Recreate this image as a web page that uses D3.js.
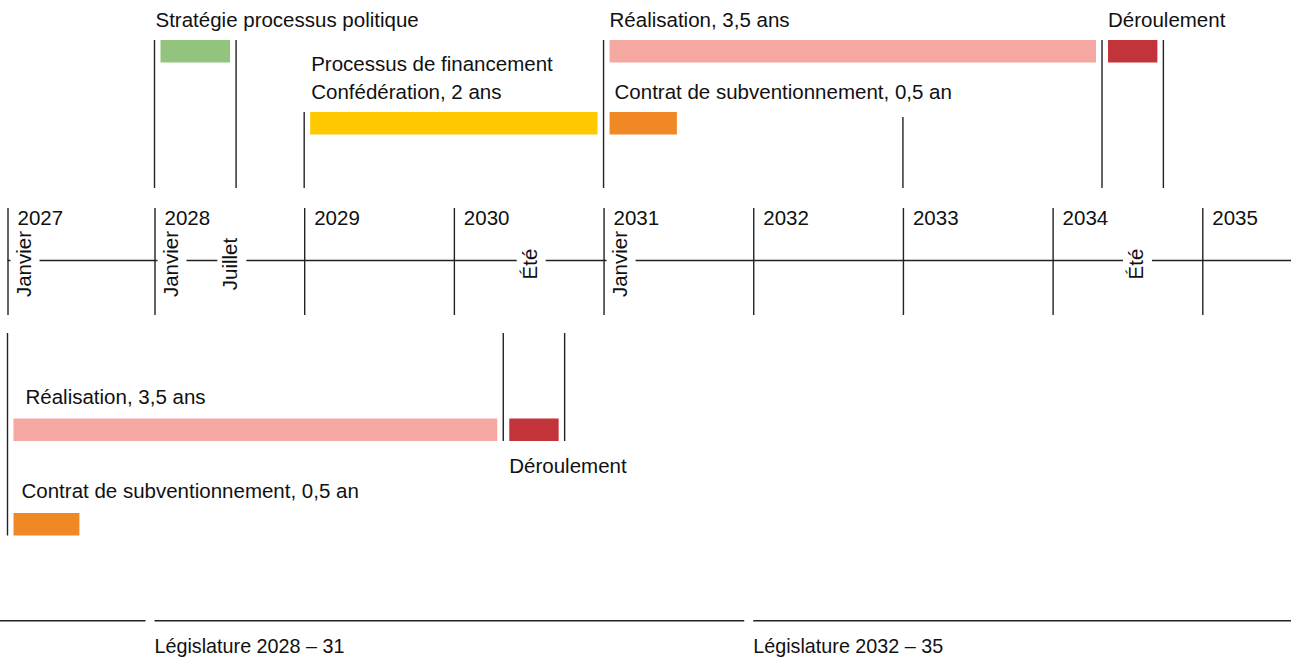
<!DOCTYPE html>
<html>
<head>
<meta charset="utf-8">
<script src="https://cdn.jsdelivr.net/npm/d3@7"></script>
<style>
  body { margin: 0; background: #fff; }
  text { font-family: "Liberation Sans", Arial, sans-serif; fill: #111; }
</style>
</head>
<body>
<div id="chart-area"></div>
<script>
//============================DATA============================
var years = [2027, 2028, 2029, 2030, 2031, 2032, 2033, 2034, 2035];

var monthLabels = ["Janvier", "Janvier", "Juillet", "Été", "Janvier", "Été"];
var monthTimes = [2027.0, 2028.0, 2028.5, 2030.5, 2031.0, 2034.55];

// top scenario (start 2028)
var topKeys = ["strategie", "financement", "realisation", "contrat", "deroulement"];
var topLabels = ["Stratégie processus politique", "Processus de financement|Confédération, 2 ans",
    "Réalisation, 3,5 ans", "Contrat de subventionnement, 0,5 an", "Déroulement"];
var topStarts = [2028.0, 2029.0, 2031.0, 2031.0, 2034.33];
var topEnds = [2028.545, 2031.0, 2034.33, 2031.53, 2034.74];
var topMarkers = [2028.0, 2028.545, 2029.0, 2031.0, 2033.0, 2034.33, 2034.74];

// bottom scenario (start 2027)
var bottomKeys = ["realisation", "deroulement", "contrat"];
var bottomLabels = ["Réalisation, 3,5 ans", "Déroulement", "Contrat de subventionnement, 0,5 an"];
var bottomStarts = [2027.0, 2030.33, 2027.0];
var bottomEnds = [2030.33, 2030.74, 2027.53];
var bottomMarkers = [2027.0, 2030.33, 2030.74];

var legislatureLabels = ["", "Législature 2028 – 31", "Législature 2032 – 35"];
var legislatureStarts = [2024, 2028, 2032];
var legislatureEnds = [2028, 2032, 2036];

//============================LAYOUT============================
var width = 1291, height = 658;
var barH = 22.5;
var ink = "#222";
var fontSize = "20.5px";

var colors = {
    strategie: "#93c47d",
    financement: "#ffc800",
    realisation: "#f5a7a1",
    contrat: "#f08826",
    deroulement: "#c3333a"
};

// row top (y) and label tweaks per scenario
var topLayout = {
    strategie:   { y: 40,  dx: -5 },
    financement: { y: 112, dx: 1 },
    realisation: { y: 40,  dx: 0 },
    contrat:     { y: 112, dx: 5 },
    deroulement: { y: 40,  dx: 0 }
};
var bottomLayout = {
    realisation: { y: 418.5, dx: 12 },
    deroulement: { y: 418.5, dx: 0, below: true },
    contrat:     { y: 513, dx: 8 }
};

var axisY = 260.5;

// the first year is squeezed a little so its tick stays inside the page
var x = d3.scaleLinear()
    .domain([2027, 2028, 2035])
    .range([7.5, 154.5, 1202.3]);

var svg = d3.select("#chart-area")
    .append("svg")
    .attr("width", width)
    .attr("height", height);

//============================AXIS============================
svg.append("line")
    .attr("x1", x(2027)).attr("x2", width)
    .attr("y1", axisY).attr("y2", axisY)
    .attr("stroke", ink)
    .attr("stroke-width", 1.5);

var months = monthLabels.map(function(d, i){
    var t = monthTimes[i];
    var onTick = years.indexOf(t) >= 0;
    return { label: d, base: x(t) + (onTick ? 23 : 8) };
});

// white gaps in the axis line behind month labels
svg.selectAll("rect.gap")
    .data(months)
    .enter()
    .append("rect")
    .attr("class", "gap")
    .attr("x", function(d){ return d.base - 20; })
    .attr("y", axisY - 6)
    .attr("width", 29)
    .attr("height", 12)
    .attr("fill", "#fff");

var xAxisCall = d3.axisBottom(x)
    .tickValues(years)
    .tickFormat(d3.format("d"))
    .tickSize(107);

var xAxis = svg.append("g")
    .attr("class", "x axis")
    .attr("transform", "translate(0, 208)")
    .call(xAxisCall);

xAxis.select(".domain").remove();
xAxis.selectAll(".tick line")
    .attr("stroke", ink)
    .attr("stroke-width", 1.4);
xAxis.selectAll(".tick text")
    .attr("x", 9.5)
    .attr("y", 17)
    .attr("dy", 0)
    .attr("text-anchor", "start")
    .attr("font-size", fontSize)
    .attr("font-family", null)
    .attr("fill", "#111");

svg.selectAll("text.month")
    .data(months)
    .enter()
    .append("text")
    .attr("class", "month")
    .attr("transform", function(d){ return "translate(" + d.base + "," + 264 + ") rotate(-90)"; })
    .attr("text-anchor", "middle")
    .attr("font-size", fontSize)
    .text(function(d){ return d.label; });

//============================BARS============================
function buildBars(keys, labels, starts, ends, layout){
    return keys.map(function(k, i){
        return { key: k, label: labels[i], start: starts[i], end: ends[i], lay: layout[k] };
    });
}

var topBars = buildBars(topKeys, topLabels, topStarts, topEnds, topLayout);
var bottomBars = buildBars(bottomKeys, bottomLabels, bottomStarts, bottomEnds, bottomLayout);

function near(a, b){ return Math.abs(a - b) < 0.001; }

// marker lines: top ones run down to just above the axis, bottom ones start below it
var markerLines = [];
topMarkers.forEach(function(t){
    var hit = topBars.filter(function(b){ return near(b.start, t) || near(b.end, t); });
    var y1 = hit.length ? d3.min(hit, function(b){ return b.lay.y; }) : 117;
    markerLines.push({ t: t, y1: y1, y2: 188 });
});
bottomMarkers.forEach(function(t){
    var hit = bottomBars.filter(function(b){ return near(b.start, t) || near(b.end, t); });
    var y2 = d3.max(hit, function(b){ return b.lay.y + barH; });
    markerLines.push({ t: t, y1: 333, y2: y2 });
});

svg.selectAll("line.marker")
    .data(markerLines)
    .enter()
    .append("line")
    .attr("class", "marker")
    .attr("x1", function(d){ return x(d.t); })
    .attr("x2", function(d){ return x(d.t); })
    .attr("y1", function(d){ return d.y1; })
    .attr("y2", function(d){ return d.y2; })
    .attr("stroke", ink)
    .attr("stroke-width", 1.4);

var allBars = topBars.concat(bottomBars);

svg.selectAll("rect.bar")
    .data(allBars)
    .enter()
    .append("rect")
    .attr("class", "bar")
    .attr("x", function(d){ return x(d.start) + 6; })
    .attr("y", function(d){ return d.lay.y; })
    .attr("width", function(d){ return x(d.end) - x(d.start) - 12; })
    .attr("height", barH)
    .attr("fill", function(d){ return colors[d.key]; });

var barLabels = svg.selectAll("text.bar-label")
    .data(allBars)
    .enter()
    .append("text")
    .attr("class", "bar-label")
    .attr("font-size", fontSize)
    .attr("x", function(d){ return x(d.start) + 6 + d.lay.dx; })
    .attr("y", function(d){
        if (d.lay.below) return d.lay.y + barH + 32;
        var bottomRow = d.lay.y > axisY;
        var lines = d.label.split("|").length;
        return d.lay.y - (bottomRow ? 15 : 13) - (lines - 1) * 28;
    });

barLabels.each(function(d){
    var el = d3.select(this);
    var x0 = el.attr("x");
    d.label.split("|").forEach(function(s, i){
        el.append("tspan")
            .attr("x", x0)
            .attr("dy", i === 0 ? 0 : 28)
            .text(s);
    });
});

//============================LEGISLATURES============================
svg.selectAll("line.leg")
    .data(legislatureStarts)
    .enter()
    .append("line")
    .attr("class", "leg")
    .attr("x1", function(d){ return Math.max(0, x(d)); })
    .attr("x2", function(d, i){ return Math.min(width, x(legislatureEnds[i]) - 9); })
    .attr("y1", 620.7)
    .attr("y2", 620.7)
    .attr("stroke", ink)
    .attr("stroke-width", 1.5);

svg.selectAll("text.leg")
    .data(legislatureStarts)
    .enter()
    .append("text")
    .attr("class", "leg")
    .attr("x", function(d){ return x(d); })
    .attr("y", 653)
    .attr("font-size", "21px")
    .attr("textLength", function(d, i){ return legislatureLabels[i] ? 190 : null; })
    .attr("lengthAdjust", "spacingAndGlyphs")
    .text(function(d, i){ return legislatureLabels[i]; });
</script>
</body>
</html>
